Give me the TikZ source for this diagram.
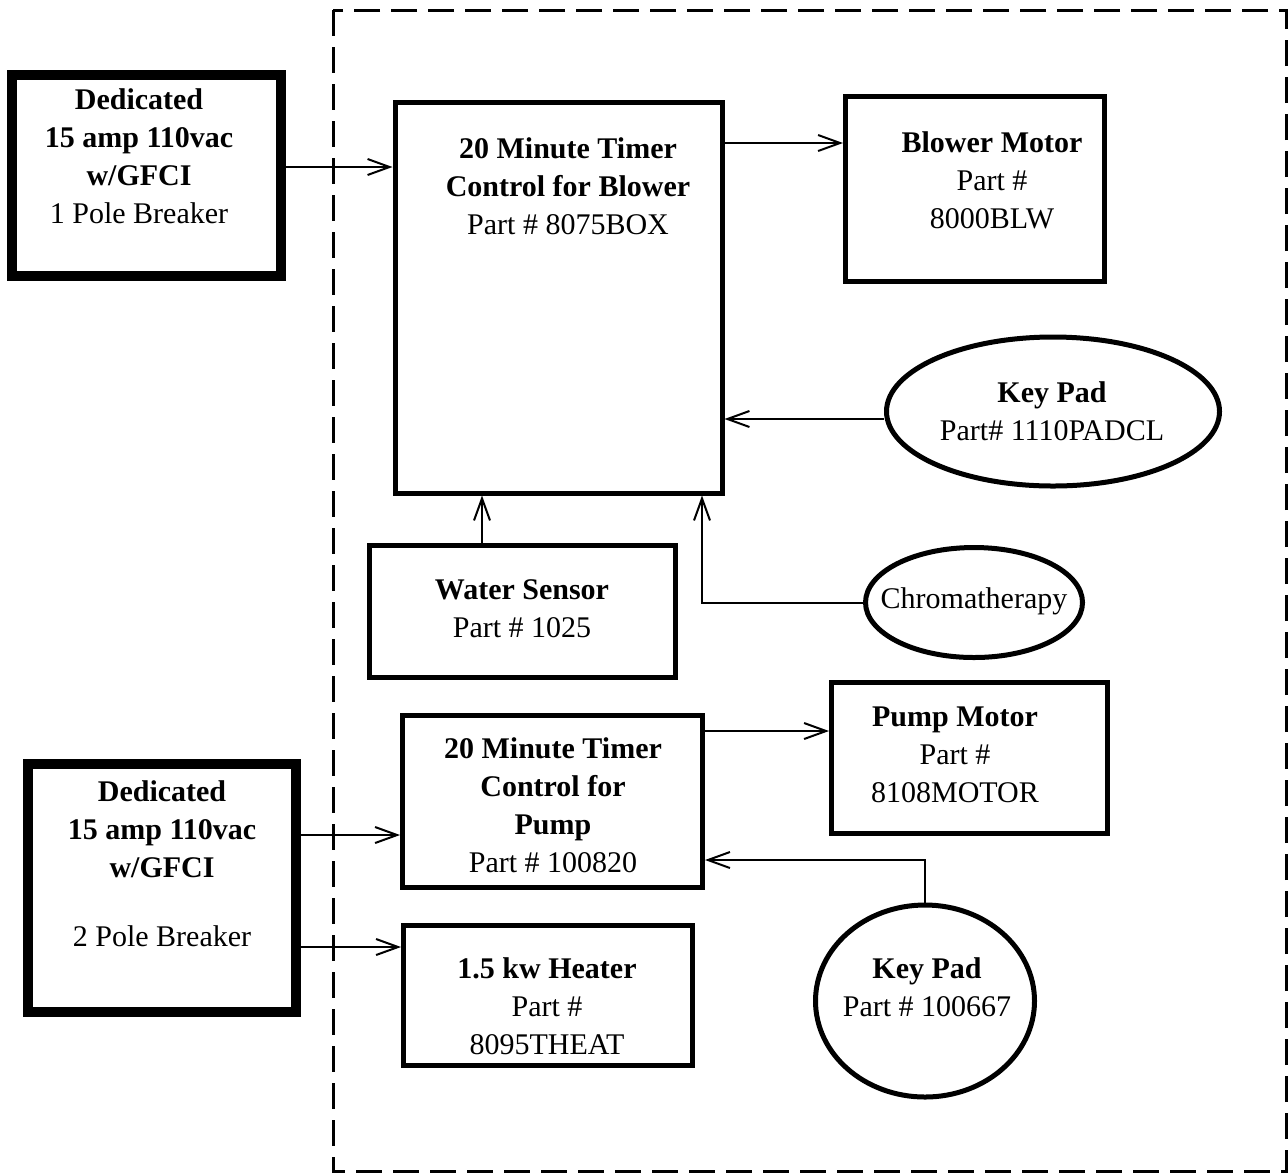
\documentclass[tikz,border=0pt]{standalone}
\usepackage{fontspec}
\setmainfont{Liberation Serif}
\usetikzlibrary{arrows.meta,shapes.geometric}
\begin{document}
\begin{tikzpicture}[x=0.5pt,y=-0.5pt,
  box/.style={draw,line width=2.5pt,rectangle,inner sep=0pt},
  heavybox/.style={draw,line width=5pt,rectangle,inner sep=0pt},
  oval/.style={draw,line width=2.5pt,ellipse,inner sep=0pt},
  txt/.style={align=center,font=\fontsize{15}{19}\selectfont,inner sep=0pt},
  arr/.style={line width=1pt,-{Straight Barb[length=11pt,width=8pt]}},
  enclosure/.style={draw,line width=1.5pt,dash pattern=on 13pt off 5.5pt}]
\useasboundingbox (0,0) rectangle (1288,1174);
\draw[enclosure] (333,10) rectangle (1286,1171);

% boxes
\node[heavybox,minimum width=134.5pt,minimum height=100.5pt] (ded1) at (146.5,175.5) {};
\node[txt] (ded1t) at (139,156.5) {\textbf{Dedicated}\\\textbf{15 amp 110vac}\\\textbf{w/GFCI}\\1 Pole Breaker};

\node[box,minimum width=163.5pt,minimum height=195.5pt] (timer1) at (558.5,297.5) {};
\node[txt] (timer1t) at (568,186) {\textbf{20 Minute Timer}\\\textbf{Control for Blower}\\Part \# 8075BOX};

\node[box,minimum width=129.5pt,minimum height=92.5pt] (blower) at (975,189) {};
\node[txt] (blowert) at (992,180) {\textbf{Blower Motor}\\Part \#\\8000BLW};

\node[oval,minimum width=166.5pt,minimum height=74.5pt] (kp1) at (1053,411.5) {};
\node[txt] (kp1t) at (1052,411.5) {\textbf{Key Pad}\\Part\# 1110PADCL};

\node[box,minimum width=153pt,minimum height=66pt] (water) at (522.5,611.5) {};
\node[txt] (watert) at (522,609) {\textbf{Water Sensor}\\Part \# 1025};

\node[oval,minimum width=108.5pt,minimum height=55pt] (chroma) at (974,602.5) {};
\node[txt] (chromat) at (974,601) {Chromatherapy};

\node[box,minimum width=150pt,minimum height=86pt] (timer2) at (552.5,801.5) {};
\node[txt] (timer2t) at (553,805) {\textbf{20 Minute Timer}\\\textbf{Control for}\\\textbf{Pump}\\Part \# 100820};

\node[box,minimum width=138pt,minimum height=75.5pt] (pump) at (969.5,758) {};
\node[txt] (pumpt) at (955,755) {\textbf{Pump Motor}\\Part \#\\8108MOTOR};

\node[oval,minimum width=109.5pt,minimum height=96pt] (kp2) at (925,1001) {};
\node[txt] (kp2t) at (927,987.5) {\textbf{Key Pad}\\Part \# 100667};

\node[heavybox,minimum width=134pt,minimum height=124pt] (ded2) at (162,888) {};
\node[txt] (ded2t) at (162,863.5) {\textbf{Dedicated}\\\textbf{15 amp 110vac}\\\textbf{w/GFCI}\\[15.5pt]2 Pole Breaker};

\node[box,minimum width=144.5pt,minimum height=70pt] (heater) at (548,995.5) {};
\node[txt] (heatert) at (547,1006) {\textbf{1.5 kw Heater}\\Part \#\\8095THEAT};

% connector guide coordinates
\coordinate (y1) at (0,167);
\coordinate (y2) at (0,143);
\coordinate (y3) at (0,419);
\coordinate (x4) at (482,0);
\coordinate (x5) at (702,0);
\coordinate (y6) at (0,835);
\coordinate (y7) at (0,947);
\coordinate (y8) at (0,731);
\coordinate (y9) at (0,860);

\draw[arr] (ded1.east |- y1) -- (timer1.west |- y1);
\draw[arr] (timer1.east |- y2) -- (blower.west |- y2);
\draw[arr] (kp1.west |- y3) -- (timer1.east |- y3);
\draw[arr] (water.north -| x4) -- (timer1.south -| x4);
\draw[arr] (chroma.west) -| (timer1.south -| x5);
\draw[arr] (ded2.east |- y6) -- (timer2.west |- y6);
\draw[arr] (ded2.east |- y7) -- (heater.west |- y7);
\draw[arr] (timer2.east |- y8) -- (pump.west |- y8);
\draw[arr] (kp2.north) |- (timer2.east |- y9);
\end{tikzpicture}
\end{document}
